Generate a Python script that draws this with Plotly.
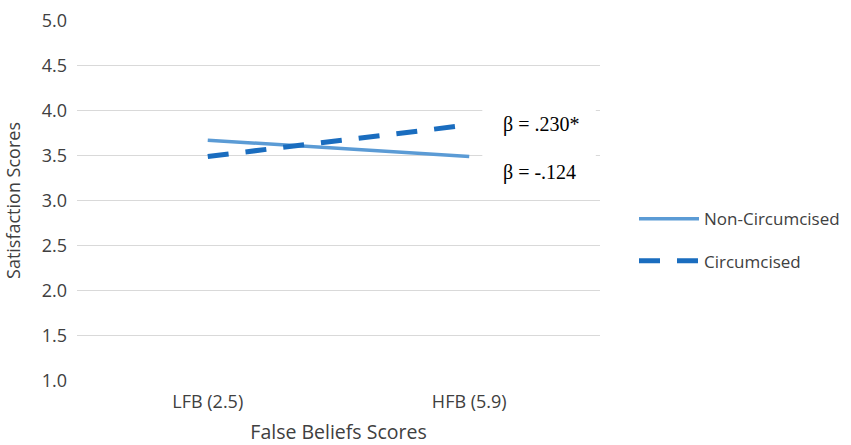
import plotly.graph_objects as go

categories = ["LFB (2.5)", "HFB (5.9)"]
non_circumcised = [3.67, 3.49]
circumcised = [3.49, 3.84]
y_ticks = [1.0, 1.5, 2.0, 2.5, 3.0, 3.5, 4.0, 4.5, 5.0]
beta_labels = ["β = .230*", "β = -.124"]
beta_y = [3.845, 3.315]

FONT = "Open Sans, Segoe UI, sans-serif"
TXT = "#404040"

fig = go.Figure()
fig.add_trace(go.Scatter(
    x=categories, y=non_circumcised, mode="lines", name="Non-Circumcised",
    line=dict(color="#5B9BD5", width=3.5), legendgroup="a"))
fig.add_trace(go.Scatter(
    x=categories, y=circumcised, mode="lines", name="Circumcised",
    line=dict(color="#1A6DBF", width=5, dash="21px,17px"), legendgroup="b"))

# white patch behind the beta labels (covers gridlines as in the original)
fig.add_shape(type="rect", xref="paper", yref="y", x0=0.775, x1=0.992, y0=3.1, y1=4.1,
              fillcolor="white", line=dict(width=0), layer="above")

for t, yv in zip(beta_labels, beta_y):
    fig.add_annotation(x=0.81, xref="paper", y=yv, yref="y", text=t, showarrow=False,
                       xanchor="left", yanchor="middle",
                       font=dict(family="Liberation Serif, Times New Roman, serif", size=20, color="#000000"))

fig.update_layout(
    width=851, height=445,
    margin=dict(l=77, r=251, t=19.5, b=64, autoexpand=False),
    paper_bgcolor="white", plot_bgcolor="white",
    font=dict(family=FONT, size=18, color=TXT),
    showlegend=True,
    legend=dict(x=1.065, xref="paper", y=0.39, yanchor="middle", yref="paper",
                font=dict(family=FONT, size=17, color=TXT),
                tracegroupgap=17, traceorder="grouped", itemwidth=60,
                bgcolor="rgba(0,0,0,0)"),
    xaxis=dict(type="category", range=[-0.5, 1.5], showgrid=False, zeroline=False,
               showline=False, ticks="outside", ticklen=4, tickcolor="rgba(0,0,0,0)",
               automargin=False, tickfont=dict(size=18, color=TXT),
               title=dict(text="False Beliefs Scores", font=dict(size=19.5, color=TXT), standoff=24)),
    yaxis=dict(range=[1, 5.003], tickvals=y_ticks, tickformat=".1f", showgrid=True,
               gridcolor="#D9D9D9", gridwidth=1.3, zeroline=False, showline=False, ticks="",
               automargin=False, ticklabelstandoff=9, ticklabeloverflow="allow",
               tickfont=dict(size=18, color=TXT),
               title=dict(text="Satisfaction Scores", font=dict(size=18, color=TXT), standoff=16)),
)

fig.write_html("out.html", config={"displayModeBar": False},
               post_script="document.body.style.margin='0';")
